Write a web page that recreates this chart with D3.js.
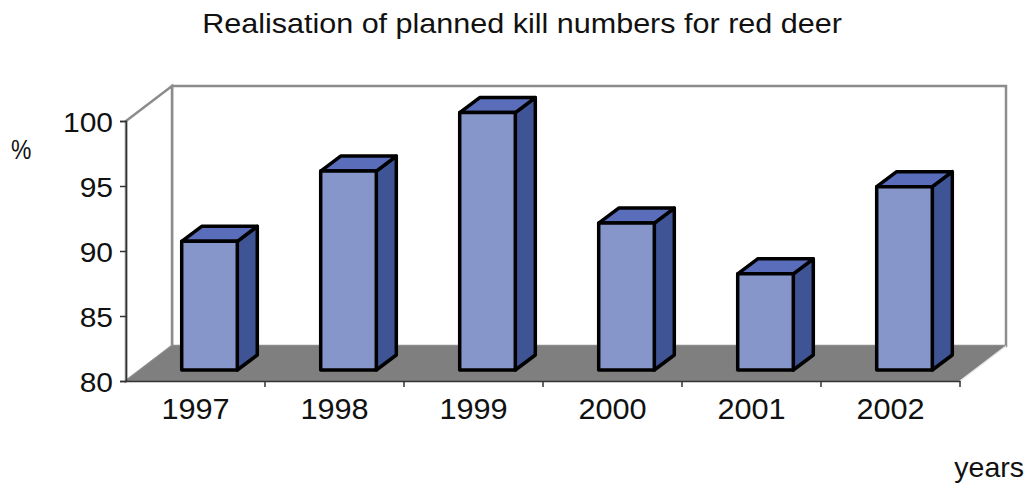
<!DOCTYPE html>
<html>
<head>
<meta charset="utf-8">
<script src="https://cdn.jsdelivr.net/npm/d3@7"></script>
<style>
  body { margin: 0; background: #fff; }
  text { font-family: "Liberation Sans", Arial, sans-serif; fill: #111; }
</style>
</head>
<body>
<svg id="chart" width="1030" height="489"></svg>
<script>
// chart data
const years = ['1997', '1998', '1999', '2000', '2001', '2002'];
const realisation = [89.9, 95.3, 99.8, 91.3, 87.4, 94.1];
const yTicks = [80, 85, 90, 95, 100];
const titleText = 'Realisation of planned kill numbers for red deer';

const svg = d3.select('#chart');

// front plane of the plot, plus the oblique depth offset of the 3d box
const plot = { left: 126, right: 960, top: 121, bottom: 381 };
const depth = { dx: 46, dy: -35 };
// bars sit a bit behind the front plane and have their own depth
const barOffset = { dx: 14, dy: -11 };
const barDepth = { dx: 20, dy: -15 };
// the original text looks stretched sideways a little
const textStretch = 1.11;

const xScale = d3.scaleBand()
    .domain(years)
    .range([plot.left, plot.right]);
const yScale = d3.scaleLinear()
    .domain([80, 100])
    .range([plot.bottom, plot.top]);

const pts = arr => arr.map(p => p.join(',')).join(' ');

function stretch(sel, k){
    sel.each(function(){
        let w = this.getComputedTextLength();
        d3.select(this)
            .attr('textLength', w * k)
            .attr('lengthAdjust', 'spacingAndGlyphs');
    });
}

// back wall
svg.append('rect')
    .attr('x', plot.left + depth.dx)
    .attr('y', plot.top + depth.dy)
    .attr('width', plot.right - plot.left)
    .attr('height', plot.bottom - plot.top)
    .attr('fill', '#fff')
    .attr('stroke', '#8c8c8c')
    .attr('stroke-width', 2.5);

// left side wall
svg.append('polygon')
    .attr('points', pts([
        [plot.left, plot.top],
        [plot.left + depth.dx, plot.top + depth.dy],
        [plot.left + depth.dx, plot.bottom + depth.dy],
        [plot.left, plot.bottom]
    ]))
    .attr('fill', '#fff')
    .attr('stroke', '#8c8c8c')
    .attr('stroke-width', 2.5);

// floor
svg.append('polygon')
    .attr('points', pts([
        [plot.left, plot.bottom],
        [plot.left + depth.dx, plot.bottom + depth.dy],
        [plot.right + depth.dx, plot.bottom + depth.dy],
        [plot.right, plot.bottom]
    ]))
    .attr('fill', '#7f7f7f');

svg.append('line')
    .attr('x1', plot.right).attr('y1', plot.bottom)
    .attr('x2', plot.right + depth.dx).attr('y2', plot.bottom + depth.dy)
    .attr('stroke', '#e8e8e8')
    .attr('stroke-width', 1.5);

// y axis
const yAxis = svg.append('g')
    .attr('transform', 'translate(' + plot.left + ',0)')
    .call(d3.axisLeft(yScale).tickValues(yTicks).tickSize(6).tickPadding(7));
yAxis.select('.domain').attr('stroke', '#333').attr('stroke-width', 1.5);
yAxis.selectAll('.tick line').attr('stroke', '#333').attr('stroke-width', 1.5);
yAxis.selectAll('.tick text')
    .attr('font-size', 27)
    .attr('font-family', '"Liberation Sans", Arial, sans-serif')
    .attr('dy', '0.38em')
    .attr('fill', '#111')
    .call(stretch, textStretch);

// x axis along the front edge of the floor
const xAxis = svg.append('g')
    .attr('transform', 'translate(0,' + plot.bottom + ')')
    .call(d3.axisBottom(xScale).tickSize(0).tickPadding(17));
xAxis.select('.domain').attr('stroke', '#333').attr('stroke-width', 1.5);
xAxis.selectAll('.tick text')
    .attr('font-size', 29.5)
    .attr('font-family', '"Liberation Sans", Arial, sans-serif')
    .attr('fill', '#111')
    .call(stretch, 1.04);
// ticks between categories
xAxis.selectAll('.sep')
    .data(years.slice(1).concat(['end']))
    .enter()
    .append('line')
    .attr('class', 'sep')
    .attr('x1', (d, i) => i < years.length - 1 ? xScale(d) : plot.right)
    .attr('x2', (d, i) => i < years.length - 1 ? xScale(d) : plot.right)
    .attr('y1', 0)
    .attr('y2', 6)
    .attr('stroke', '#333')
    .attr('stroke-width', 1.5);

// 3d bars
const barW = xScale.bandwidth() * 0.4;
const bars = svg.append('g')
    .selectAll('g')
    .data(years.map((y, i) => ({ year: y, value: realisation[i] })))
    .enter()
    .append('g');

function barGeom(d){
    let x0 = xScale(d.year) + (xScale.bandwidth() - barW) / 2 + barOffset.dx;
    let x1 = x0 + barW;
    let yb = yScale(80) + barOffset.dy;
    let yt = yScale(d.value) + barOffset.dy;
    return { x0, x1, yb, yt };
}

// side face
bars.append('polygon')
    .attr('points', d => {
        let g = barGeom(d);
        return pts([[g.x1, g.yt], [g.x1 + barDepth.dx, g.yt + barDepth.dy],
            [g.x1 + barDepth.dx, g.yb + barDepth.dy], [g.x1, g.yb]]);
    })
    .attr('fill', '#3f5494');
// top face
bars.append('polygon')
    .attr('points', d => {
        let g = barGeom(d);
        return pts([[g.x0, g.yt], [g.x0 + barDepth.dx, g.yt + barDepth.dy],
            [g.x1 + barDepth.dx, g.yt + barDepth.dy], [g.x1, g.yt]]);
    })
    .attr('fill', '#5a6dba');
// front face
bars.append('rect')
    .attr('x', d => barGeom(d).x0)
    .attr('y', d => barGeom(d).yt)
    .attr('width', barW)
    .attr('height', d => barGeom(d).yb - barGeom(d).yt)
    .attr('fill', '#8796ca');
bars.selectAll('polygon, rect')
    .attr('stroke', '#000')
    .attr('stroke-width', 3.5)
    .attr('stroke-linejoin', 'round');

// title and axis names
svg.append('text')
    .attr('x', 522)
    .attr('y', 33)
    .attr('text-anchor', 'middle')
    .attr('font-size', 27.5)
    .text(titleText)
    .call(stretch, textStretch);

svg.append('text')
    .attr('x', 11)
    .attr('y', 159)
    .attr('font-size', 27)
    .text('%')
    .call(stretch, 0.85);

svg.append('text')
    .attr('x', 1024)
    .attr('y', 477)
    .attr('text-anchor', 'end')
    .attr('font-size', 28.5)
    .text('years');
</script>
</body>
</html>
